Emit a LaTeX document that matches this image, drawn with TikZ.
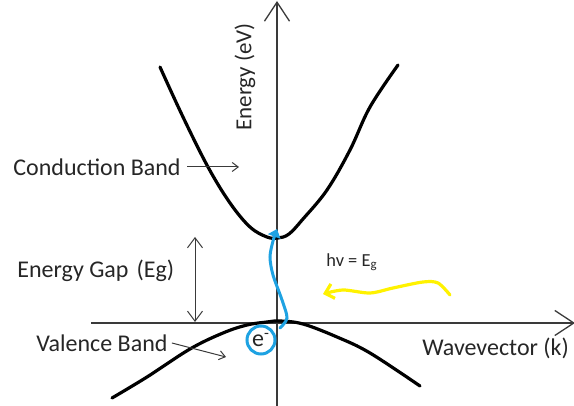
\documentclass[tikz,border=0pt]{standalone}
\usepackage{fontspec}
\setmainfont{Carlito}
\usepackage{tikz}
\usetikzlibrary{arrows.meta, positioning, calc}
\definecolor{axisgray}{HTML}{3A3A3A}
\definecolor{textdark}{HTML}{262626}
\definecolor{photon}{HTML}{FFF200}
\definecolor{electron}{HTML}{1EA2E2}

\begin{document}
\begin{tikzpicture}[x=0.5pt, y=-0.5pt,
    axis/.style={draw=axisgray, line width=0.65pt, -{Straight Barb[length=9.5pt, width=12.5pt]}},
    band/.style={draw=black, line width=1.6pt, line cap=round},
    label/.style={font=\fontsize{12}{14}\selectfont, text=textdark, inner sep=0pt},
    small/.style={font=\fontsize{9.2}{11}\selectfont, text=textdark, inner sep=0pt},
    pointer/.style={draw=axisgray, line width=0.5pt, -{Straight Barb[length=3pt, width=4.5pt]}},
    gaparr/.style={draw=axisgray, line width=0.5pt, {Straight Barb[length=5pt, width=7.5pt]}-{Straight Barb[length=5pt, width=7.5pt]}},
  ]
  \useasboundingbox (0,0) rectangle (574,406);

  % Axes
  \coordinate (ybot) at (277,406);
  \coordinate (ytop) at (277,1);
  \coordinate (xleft) at (91,323);
  \coordinate (xright) at (575,323);
  \draw[axis] (ybot) -- (ytop);
  \draw[axis] (xleft) -- (xright);
  \node[label, rotate=90, font=\fontsize{11.5}{14}\selectfont] (elabel) at (245,77) {Energy (eV)};
  \node[label, anchor=west] (klabel) at (422,348) {Wavevector (k)};

  % Bands
  \draw[band] plot[smooth, tension=0.6] coordinates {(160,67) (183,117) (208,167) (230,203) (250,227) (267,237) (278,238) (289,234) (303,219) (327,190) (350,150) (370,107) (398,65)};
  \draw[band] plot[smooth, tension=0.6] coordinates {(112,398) (147,377) (190,349) (223,333) (247,325) (267,322) (280,321) (303,324) (337,337) (370,353) (420,386)};

  % Labels with pointers
  \node[label, anchor=west] (cblabel) at (13,167) {Conduction Band};
  \coordinate (cbtip) at (239,167);
  \draw[pointer] ([xshift=3pt]cblabel.east) -- (cbtip);

  \node[label, anchor=west] (vblabel) at (36,343) {Valence Band};
  \coordinate (vbtip) at (226,357);
  \draw[pointer] ([xshift=2pt]vblabel.east) -- (vbtip);

  \node[label, anchor=west] (eglabel) at (17,271) {Energy Gap\hspace{4pt}(Eg)};
  \coordinate (gaptop) at (195,237);
  \coordinate (gapbot) at (195,322);
  \draw[gaparr] (gaptop) -- (gapbot);

  % Photon and electron
  \node[small] (hv) at (352,262) {hv = E\textsubscript{g}};
  \coordinate (phstart) at (450,295);
  \coordinate (phend) at (323,294);
  \draw[photon, line width=1.6pt, line cap=round, -{Straight Barb[length=4pt, width=7.5pt]}]
    plot[smooth] coordinates {(phstart) (438,283) (423,282) (393,288) (370,293) (343,290) (phend)};

  \node[draw=electron, line width=1.5pt, circle, minimum size=14pt, inner sep=0pt, label] (elec) at (261,340) {e\textsuperscript{-}};
  \coordinate (jumpend) at (277,229);
  \draw[electron, line width=1.5pt, line cap=round, -{Triangle[length=4pt, width=6.5pt]}]
    plot[smooth] coordinates {(280,328) (287,318) (282,300) (273,275) (270,257) (273,241) (jumpend)};
\end{tikzpicture}
\end{document}
